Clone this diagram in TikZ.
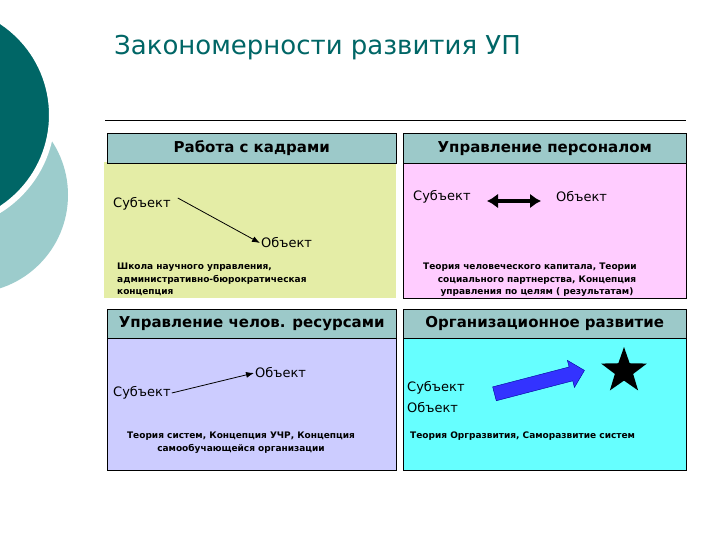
\documentclass[tikz,border=0pt]{standalone}
\usepackage{fontspec}
\setmainfont{DejaVu Sans}
\usetikzlibrary{arrows.meta,shapes.geometric,shapes.arrows}
\definecolor{hdr}{HTML}{9CC9C9}
\definecolor{grn}{HTML}{E4EDA6}
\definecolor{pnk}{HTML}{FFCCFF}
\definecolor{lav}{HTML}{CCCCFF}
\definecolor{cyn}{HTML}{66FFFF}
\definecolor{dteal}{HTML}{006666}
\definecolor{lteal}{HTML}{9CCCCC}
\tikzset{
 hdrbox/.style={draw=black,fill=hdr,font=\fontsize{15}{17}\selectfont\bfseries,inner sep=0pt},
 lbl/.style={font=\fontsize{13}{15}\selectfont,inner sep=1pt,anchor=west},
 theory/.style={font=\fontsize{9}{12.5}\selectfont\bfseries,inner sep=0pt,anchor=north west,align=left},
}
\begin{document}
\begin{tikzpicture}[x=1pt,y=-1pt]
\useasboundingbox (0,0) rectangle (720,540);
\fill[white] (0,0) rectangle (720,540);
% decoration
\fill[lteal] (-30,195) circle (98);
\fill[dteal,draw=white,line width=6pt] (-60,115) circle (112);
% title
\node[anchor=west,text=dteal,font=\fontsize{26}{30}\selectfont,inner sep=0pt] (title) at (114,48) {Закономерности развития УП};
\draw (105,120) -- (686,120);
% panels
\fill[grn] (104,162) rectangle (396,298);
\node[hdrbox,minimum width=289pt,minimum height=30pt,anchor=north west] (h1) at (107,133) {Работа с кадрами};
\draw[fill=pnk] (403,162) rectangle (686,298);
\node[hdrbox,minimum width=283pt,minimum height=30pt,anchor=north west] (h2) at (403,133) {Управление персоналом};
\draw[fill=lav] (107,338) rectangle (396,470);
\node[hdrbox,minimum width=289pt,minimum height=29pt,anchor=north west] (h3) at (107,309) {Управление челов. ресурсами};
\draw[fill=cyn] (403,338) rectangle (686,470);
\node[hdrbox,minimum width=283pt,minimum height=29pt,anchor=north west] (h4) at (403,309) {Организационное развитие};
% panel 1
\node[lbl] (s1) at (112,204) {Субъект};
\node[lbl] (o1) at (260,243) {Объект};
\draw[-{Latex[length=8pt,width=6pt]},thick] (s1.east)+(6,-6) -- (o1.west);
\node[theory] (t1) at (117,263) {Школа научного управления,\\административно-бюрократическая\\концепция};
% panel 2
\node[lbl] (s2) at (412,197) {Субъект};
\node[lbl] (o2) at (555,197) {Объект};
\draw[{Latex[length=11pt,width=15pt]}-{Latex[length=11pt,width=15pt]},line width=4pt] (487,201) -- (541,201);
\node[theory,align=center,anchor=north] (t2) at (530,263) {Теория человеческого капитала, Теории\\\hspace*{14pt}социального партнерства, Концепция\\\hspace*{14pt}управления по целям ( результатам)};
% panel 3
\node[lbl] (s3) at (112,393) {Субъект};
\node[lbl] (o3) at (254,373) {Объект};
\draw[-{Latex[length=8pt,width=6pt]},thick] (s3.east) -- (o3.west);
\node[theory,align=center,anchor=north] (t3) at (241,432) {Теория систем, Концепция УЧР, Концепция\\самообучающейся организации};
% panel 4
\node[lbl] (s4) at (406,388) {Субъект};
\node[lbl] (o4) at (406,408) {Объект};
\node[single arrow,draw=blue!60!black,fill=blue!80!white,rotate=14.6,minimum height=93pt,minimum width=28pt,single arrow head extend=4pt,inner sep=4pt] (ba) at (536,383) {};
\node[star,star points=5,star point ratio=2.5,fill=black,minimum size=48pt,inner sep=0pt] (st) at (624,371) {};
\node[theory] (t4) at (410,432) {Теория Оргразвития, Саморазвитие систем};
\end{tikzpicture}
\end{document}
